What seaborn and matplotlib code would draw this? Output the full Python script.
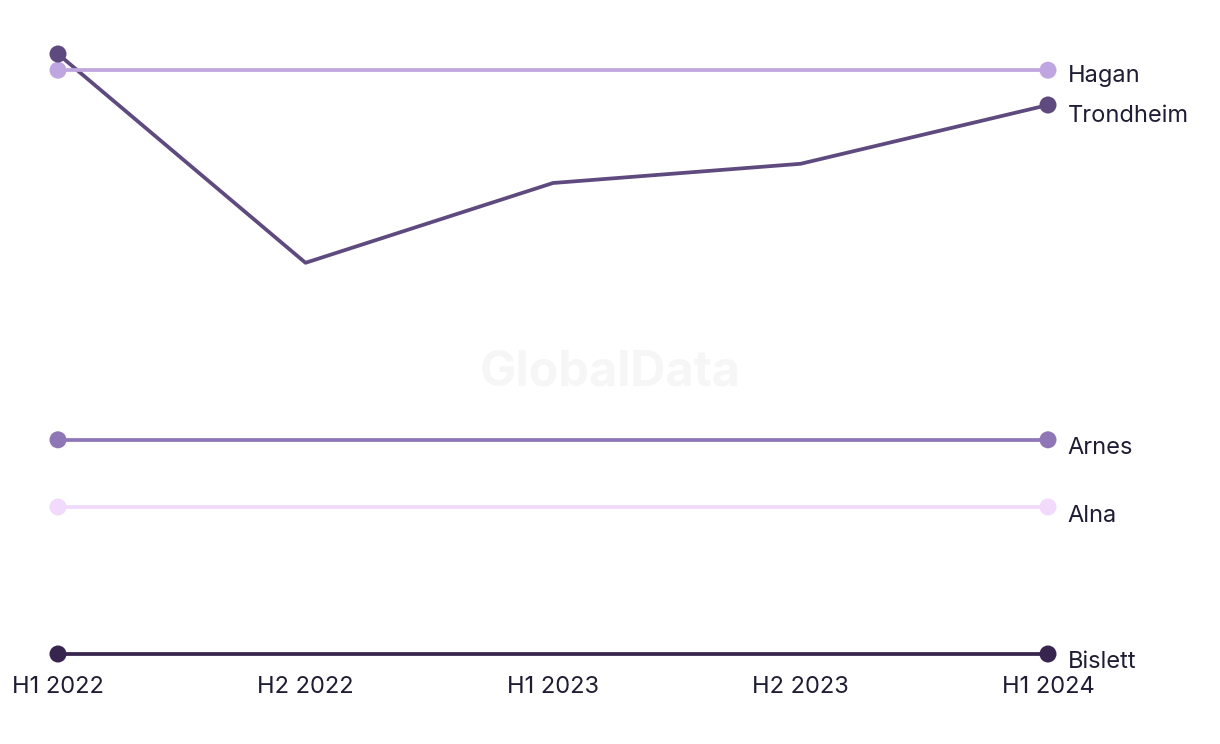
import pandas as pd
import numpy as np
import matplotlib
matplotlib.use('Agg')
import matplotlib.pyplot as plt
import seaborn as sb

periods = ['H1 2022', 'H2 2022', 'H1 2023', 'H2 2023', 'H1 2024']
trondheim = [100.0, 65.2, 78.5, 81.7, 91.5]
hagan = [97.3, 97.3, 97.3, 97.3, 97.3]
arnes = [35.7, 35.7, 35.7, 35.7, 35.7]
alna = [24.5, 24.5, 24.5, 24.5, 24.5]
bislett = [0.0, 0.0, 0.0, 0.0, 0.0]

names = ['Hagan', 'Trondheim', 'Arnes', 'Alna', 'Bislett']
series = {'Hagan': hagan, 'Trondheim': trondheim, 'Arnes': arnes, 'Alna': alna, 'Bislett': bislett}
colors = {'Hagan': '#c0a6e0', 'Trondheim': '#5e4a7e', 'Arnes': '#8f76b6',
          'Alna': '#f1dafb', 'Bislett': '#37244f'}
# small nudges so labels sit where the original puts them
label_shift = {'Hagan': -1.0, 'Trondheim': -1.8, 'Arnes': -1.4, 'Alna': -1.5, 'Bislett': -1.3}

rows = []
for n in names:
    for i, p in enumerate(periods):
        rows.append({'site': n, 'x': i, 'period': p, 'value': series[n][i]})
df = pd.DataFrame(rows)
ends = df[df['x'].isin([0, len(periods) - 1])]

sb.set_style('white')
plt.rcParams['font.family'] = ['Inter', 'DejaVu Sans']
txt = '#1f1d33'

fig = plt.figure(figsize=(12.2, 7.44), dpi=100)
ax = fig.add_axes([58 / 1220, 1 - 654 / 744, (1048 - 58) / 1220, (654 - 54) / 744])

fig.text(0.5, 1 - 373 / 744, 'GlobalData', ha='center', va='center',
         fontsize=35, fontweight='bold', color='#f6f6f6', zorder=0)

sb.lineplot(data=df, x='x', y='value', hue='site', palette=colors, hue_order=names[::-1],
            linewidth=2.7, legend=False, ax=ax, clip_on=False)
sb.scatterplot(data=ends, x='x', y='value', hue='site', palette=colors, hue_order=names[::-1],
               s=150, edgecolor='none', legend=False, ax=ax, clip_on=False, zorder=5)

for n in names:
    ax.text(len(periods) - 1 + 0.08, series[n][-1] + label_shift[n], n, ha='left', va='center',
            fontsize=17, color=txt, clip_on=False)

ax.set_xlim(0, len(periods) - 1)
ax.set_ylim(0, 100)
ax.set_xticks(range(len(periods)))
ax.set_xticklabels(periods, fontsize=17, color=txt)
ax.tick_params(axis='x', length=0, pad=16)
ax.set_yticks([])
ax.set_xlabel('')
ax.set_ylabel('')
for s in ax.spines.values():
    s.set_visible(False)
ax.patch.set_alpha(0)

plt.savefig('out.png', dpi=100)
